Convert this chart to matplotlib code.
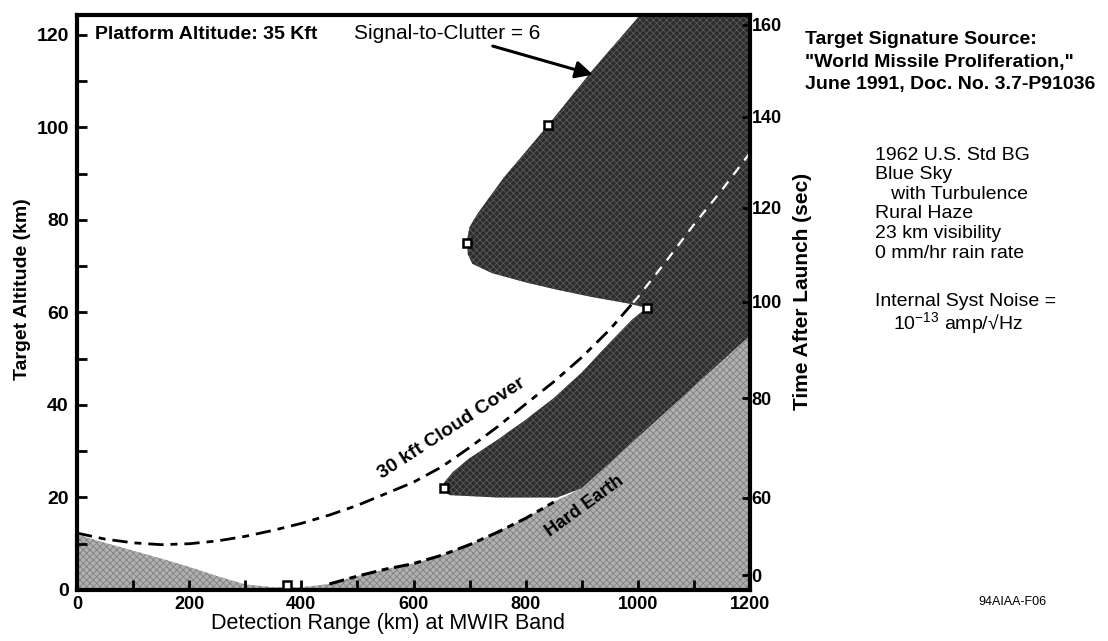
import matplotlib
matplotlib.use("Agg")
import matplotlib.pyplot as plt
from matplotlib.ticker import MultipleLocator

plt.rcParams['font.family'] = ['Liberation Sans', 'DejaVu Sans']
plt.rcParams['mathtext.fontset'] = 'custom'
plt.rcParams['mathtext.rm'] = 'Liberation Sans'
plt.rcParams['hatch.linewidth'] = 0.6
plt.rcParams['lines.scale_dashes'] = False

# ---------------- data ----------------
# Hard-earth horizon (range km, target altitude km)
hard_x = [0, 50, 100, 150, 200, 250, 300, 350, 400, 450, 500, 550, 600, 650,
          700, 750, 800, 850, 900, 950, 1000, 1050, 1100, 1150, 1200]
hard_alt = [12.0, 10.2, 8.5, 6.8, 5.0, 3.0, 1.2, 0.6, 0.6, 1.3, 3.0, 4.5, 5.7, 7.5,
            9.8, 12.5, 15.5, 19.0, 22.0, 27.5, 33.0, 38.5, 44.0, 49.5, 55.0]

# 30 kft cloud cover line of sight
cloud_x = [0, 50, 100, 150, 200, 250, 300, 350, 400, 450, 500, 550, 600, 650,
           700, 750, 800, 850, 900, 950, 1000, 1050, 1100, 1150, 1200]
cloud_alt = [12.3, 11.0, 10.2, 9.8, 10.0, 10.6, 11.6, 12.9, 14.4, 16.2, 18.3, 20.8, 23.3, 26.6,
             30.8, 35.3, 40.2, 45.0, 50.3, 56.3, 63.3, 71.0, 79.0, 86.5, 94.5]

# Signal-to-clutter = 6 detection region boundaries
upper_x = [1004, 920, 840, 760, 715, 700, 695, 697, 705]
upper_alt = [124.3, 112.5, 100.5, 89.0, 81.5, 78.5, 75.5, 72.5, 70.5]
notch_x = [740, 800, 860, 920, 980, 1016]
notch_alt = [68.5, 66.5, 64.8, 63.3, 62.0, 61.0]
lower_x = [990, 950, 900, 850, 800, 750, 700, 670, 655]
lower_alt = [58.5, 53.5, 47.0, 41.5, 36.8, 32.5, 28.5, 25.5, 23.3]
bottom_x = [652, 665, 750, 856]
bottom_alt = [21.5, 20.5, 20.0, 20.0]

# Data points (open squares)
marker_x = [375, 654, 695, 840, 1016]
marker_alt = [1.0, 22.0, 75.0, 100.5, 61.0]

# Right axis: time after launch (sec) and the altitude where each label sits
time_labels = ['160', '140', '120', '100', '80', '60', '0']
time_alt = [122.2, 102.3, 82.6, 62.3, 41.5, 19.9, 3.2]

x_ticks = [0, 200, 400, 600, 800, 1000, 1200]
y_ticks = [0, 20, 40, 60, 80, 100, 120]

Y_TOP = 124.3

# ---------------- figure ----------------
W, H = 1108, 641
fig = plt.figure(figsize=(W / 100, H / 100), dpi=100)
ax = fig.add_axes([77 / W, 1 - 590 / H, (750 - 77) / W, (590 - 15) / H])
ax.set_xlim(0, 1200)
ax.set_ylim(0, Y_TOP)

# hard earth region
hx = list(hard_x) + [hard_x[-1], hard_x[0]]
hy = list(hard_alt) + [0, 0]
ax.fill(hx, hy, facecolor='#b0b0b0', edgecolor='#808080', hatch='xxxxx',
        linewidth=0, zorder=1)

# dark detection region polygon
hard_right_x = [x for x in hard_x if x >= 900]
hard_right_a = [a for x, a in zip(hard_x, hard_alt) if x >= 900]
dx = (upper_x + notch_x + lower_x + bottom_x + hard_right_x + [1200, 1200])
dy = (upper_alt + notch_alt + lower_alt + bottom_alt + hard_right_a + [Y_TOP, Y_TOP])
dark = ax.fill(dx, dy, facecolor='#2c2c2c', edgecolor='#5a5a5a', hatch='xxxxx',
               linewidth=0, zorder=2)[0]

# horizon dashed line (black) on top of the hard earth
hz = [(x, a) for x, a in zip(hard_x, hard_alt) if 450 <= x <= 860]
ax.plot([p[0] for p in hz], [p[1] for p in hz], color='black', lw=2.2,
        dashes=(11, 4, 5, 4), zorder=3)

# cloud cover line: black dashes in the open, white dashes inside dark region
ax.plot(cloud_x, cloud_alt, color='black', lw=2.0, dashes=(11, 5, 5, 5), zorder=1.5)
wl, = ax.plot(cloud_x, cloud_alt, color='white', lw=1.6, dashes=(7, 6), zorder=3)
wl.set_clip_path(dark)

# markers
ax.plot(marker_x, marker_alt, linestyle='none', marker='s', markersize=6,
        markerfacecolor='white', markeredgecolor='black', markeredgewidth=1.8,
        zorder=6, clip_on=False)

# axes styling
for s in ax.spines.values():
    s.set_linewidth(3)
    s.set_zorder(5)
ax.set_xticks(x_ticks)
ax.set_yticks(y_ticks)
ax.xaxis.set_minor_locator(MultipleLocator(100))
ax.yaxis.set_minor_locator(MultipleLocator(10))
ax.tick_params(which='both', direction='in', length=7, width=2)
ax.tick_params(axis='y', which='major', pad=6, labelsize=14)
ax.tick_params(axis='x', which='major', pad=4, labelsize=13)
for lab in ax.get_xticklabels() + ax.get_yticklabels():
    lab.set_fontweight('bold')

ax2 = ax.twinx()
ax2.set_ylim(0, Y_TOP)
ax2.set_yticks(time_alt)
ax2.set_yticklabels(time_labels, fontweight='bold', fontsize=13)
ax2.tick_params(axis='y', direction='in', length=6, width=2, pad=1)
for s in ax2.spines.values():
    s.set_visible(False)

# annotations in data space
ax.text(32, 120, 'Platform Altitude: 35 Kft', fontsize=14, fontweight='bold',
        va='center', ha='left', zorder=7)
ax.annotate('Signal-to-Clutter = 6', xy=(920, 111.4), xytext=(826, 120.4),
            fontsize=15, ha='right', va='center', zorder=7,
            arrowprops=dict(arrowstyle='-|>', color='black', lw=2.2,
                            mutation_scale=26, shrinkA=2, shrinkB=0))
ax.text(668, 35.0, '30 kft Cloud Cover', fontsize=14, fontweight='bold',
        rotation=33, rotation_mode='anchor', ha='center', va='center', zorder=7)
ax.text(905, 18.0, 'Hard Earth', fontsize=13, fontweight='bold',
        rotation=36, rotation_mode='anchor', ha='center', va='center', zorder=7)

# axis labels & side notes in figure pixels
def ft(x, y, s, **kw):
    fig.text(x / W, 1 - y / H, s, **kw)

ft(23, 289, 'Target Altitude (km)', rotation=90, fontsize=14, fontweight='bold',
   ha='center', va='center')
ft(803, 291, 'Time After Launch (sec)', rotation=90, fontsize=15, fontweight='bold',
   ha='center', va='center')
ft(388, 623, 'Detection Range (km) at MWIR Band', fontsize=15.5, ha='center', va='center')

ft(805, 40, 'Target Signature Source:', fontsize=14, fontweight='bold', va='center')
ft(805, 63, '"World Missile Proliferation,"', fontsize=14, fontweight='bold', va='center')
ft(805, 85, 'June 1991, Doc. No. 3.7-P91036', fontsize=14, fontweight='bold', va='center')

cond_lines = ['1962 U.S. Std BG', 'Blue Sky', '   with Turbulence', 'Rural Haze',
              '23 km visibility', '0 mm/hr rain rate']
for i, s in enumerate(cond_lines):
    ft(875, 155 + i * 19.6, s, fontsize=14, va='center')
ft(875, 301, 'Internal Syst Noise =', fontsize=14, va='center')
ft(893, 324, r'10$^{\mathregular{-13}}$ amp/√Hz', fontsize=14, va='center')
ft(1012, 602, '94AIAA-F06', fontsize=9, ha='center', va='center')

fig.savefig('out.png', dpi=100)
